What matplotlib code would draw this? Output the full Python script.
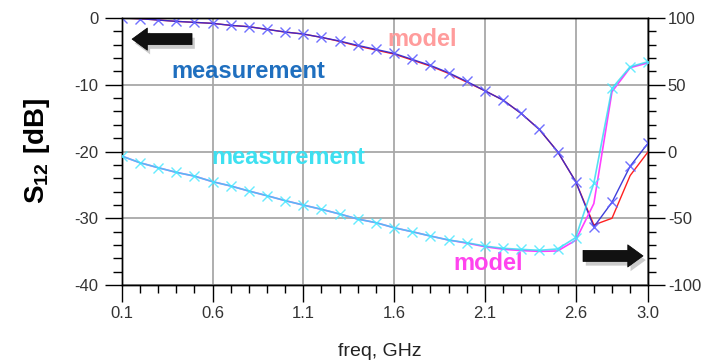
import matplotlib
matplotlib.use("Agg")
import matplotlib.pyplot as plt
import matplotlib.patheffects as pe
from matplotlib.ticker import MultipleLocator, FixedLocator

# frequency points, GHz
freq = [0.1, 0.2, 0.3, 0.4, 0.5, 0.6, 0.7, 0.8, 0.9, 1.0,
        1.1, 1.2, 1.3, 1.4, 1.5, 1.6, 1.7, 1.8, 1.9, 2.0,
        2.1, 2.2, 2.3, 2.4, 2.5, 2.6, 2.7, 2.8, 2.9, 3.0]

# |S12| in dB (left axis)
s12_meas = [0.0, -0.1, -0.3, -0.5, -0.65, -0.8, -1.1, -1.3, -1.7, -2.1,
            -2.4, -2.9, -3.45, -4.1, -4.7, -5.3, -6.2, -7.1, -8.2, -9.5,
            -10.9, -12.3, -14.3, -16.7, -20.0, -24.5, -31.3, -27.6, -22.2, -18.7]
s12_model = [0.0, -0.1, -0.3, -0.5, -0.65, -0.8, -1.1, -1.3, -1.7, -2.1,
             -2.4, -2.9, -3.5, -4.2, -4.8, -5.4, -6.3, -7.2, -8.3, -9.6,
             -10.9, -12.3, -14.3, -16.7, -20.0, -24.5, -31.0, -30.0, -23.6, -20.0]

# phase of S12 in degrees (right axis)
ph_meas = [-3.4, -8.4, -12.1, -15.6, -18.4, -22.6, -25.8, -29.6, -33.1, -36.8,
           -40.1, -43.3, -46.8, -50.6, -53.3, -57.1, -60.1, -63.3, -66.3, -68.3,
           -70.8, -72.5, -73.3, -74.0, -73.0, -64.5, -23.8, 47.3, 63.5, 67.3]
ph_model = [-3.4, -8.4, -12.1, -15.6, -18.4, -22.6, -25.8, -29.6, -33.1, -36.8,
            -40.1, -43.3, -46.8, -50.6, -53.3, -57.1, -60.1, -63.3, -66.3, -68.6,
            -71.3, -73.2, -74.2, -74.8, -74.5, -66.5, -39.0, 44.8, 62.8, 66.5]

x_major = [0.1, 0.6, 1.1, 1.6, 2.1, 2.6, 3.0]

plt.rcParams['font.family'] = ['Liberation Sans', 'DejaVu Sans']
plt.rcParams['mathtext.fontset'] = 'custom'
plt.rcParams['mathtext.rm'] = 'Liberation Sans'
plt.rcParams['mathtext.bf'] = 'Liberation Sans:bold'
plt.rcParams['axes.unicode_minus'] = False

tick_col = "#333333"
grid_col = "#a8a8a8"

fig = plt.figure(figsize=(7.14, 3.64), dpi=100)
ax = fig.add_axes([0.1705, 0.217, 0.7375, 0.7335])
ax2 = ax.twinx()

# left axis: magnitude
ax.plot(freq, s12_model, color="#ff2020", lw=1.0, zorder=3)
ax.plot(freq, s12_meas, color="#2a2ad8", lw=1.0, alpha=0.9, marker='x',
        ms=7, mec="#6060ff", mew=1.0, zorder=4)

# right axis: phase
ax2.plot(freq, ph_model, color="#ff40ff", lw=1.2, zorder=3)
ax2.plot(freq, ph_meas, color="#30d8f0", lw=1.2, alpha=0.8, marker='x',
         ms=7, mec="#40e8ff", mew=1.0, zorder=4)

ax.set_xlim(0.1, 3.0)
ax.set_ylim(-40, 0)
ax2.set_ylim(-100, 100)

ax.xaxis.set_major_locator(FixedLocator(x_major))
ax.xaxis.set_minor_locator(MultipleLocator(0.1))
ax.set_xticklabels([f"{v:.1f}" for v in x_major])
ax.yaxis.set_major_locator(MultipleLocator(10))
ax.yaxis.set_minor_locator(MultipleLocator(2))
ax2.yaxis.set_major_locator(MultipleLocator(50))
ax2.yaxis.set_minor_locator(MultipleLocator(10))

ax.grid(True, which='major', color=grid_col, lw=1.3)
ax.set_axisbelow(True)

ax.tick_params(axis='y', which='major', length=12, width=1, pad=5,
               labelsize=12, labelcolor=tick_col, direction='out')
ax.tick_params(axis='y', which='minor', length=6.5, width=1, direction='out')
ax.tick_params(axis='x', which='major', length=12, width=1, pad=3,
               labelsize=12, labelcolor=tick_col, direction='out')
ax.tick_params(axis='x', which='minor', length=6, width=1, direction='out')
ax2.tick_params(axis='y', which='major', length=12, width=1, pad=2,
                labelsize=12, labelcolor=tick_col, direction='out')
ax2.tick_params(axis='y', which='minor', length=6, width=1, direction='out')

for a in (ax, ax2):
    for s in a.spines.values():
        s.set_color("black")
        s.set_linewidth(1.0)

# axis titles
fig.text(37 / 714, 1 - 151 / 364, r"$\mathbf{S_{12}\ [dB]}$", rotation=90,
         ha='center', va='center', fontsize=20, color="black")
fig.text(380 / 714, 1 - 352 / 364, "freq, GHz", ha='center', va='center',
         fontsize=14, color="#222222")

# curve labels
ax.text(0.570, 0.918, "model", transform=ax.transAxes, ha='center', va='center',
        fontsize=17, fontweight='bold', color="#ff9c9c")
ax.text(0.240, 0.798, "measurement", transform=ax.transAxes, ha='center', va='center',
        fontsize=17, fontweight='bold', color="#1f6fbf")
ax.text(0.316, 0.476, "measurement", transform=ax.transAxes, ha='center', va='center',
        fontsize=17, fontweight='bold', color="#3ee0f0")
ax.text(0.696, 0.082, "model", transform=ax.transAxes, ha='center', va='center',
        fontsize=17, fontweight='bold', color="#ff44ee")

# axis indicator arrows
arrow_style = dict(arrowstyle="simple,head_width=16,head_length=11,tail_width=8",
                   fc="#111111", ec="#000000", lw=0.5, mutation_scale=1,
                   shrinkA=0, shrinkB=0,
                   path_effects=[pe.withSimplePatchShadow(offset=(2, -3), shadow_rgbFace="#999999", alpha=0.5)])
ax2.annotate("", xy=(0.0196, 0.921), xytext=(0.1335, 0.921),
             xycoords='axes fraction', textcoords='axes fraction',
             arrowprops=arrow_style, zorder=6)
ax2.annotate("", xy=(0.990, 0.109), xytext=(0.876, 0.109),
             xycoords='axes fraction', textcoords='axes fraction',
             arrowprops=arrow_style, zorder=6)

fig.savefig("out.png", dpi=100)
plt.close(fig)
